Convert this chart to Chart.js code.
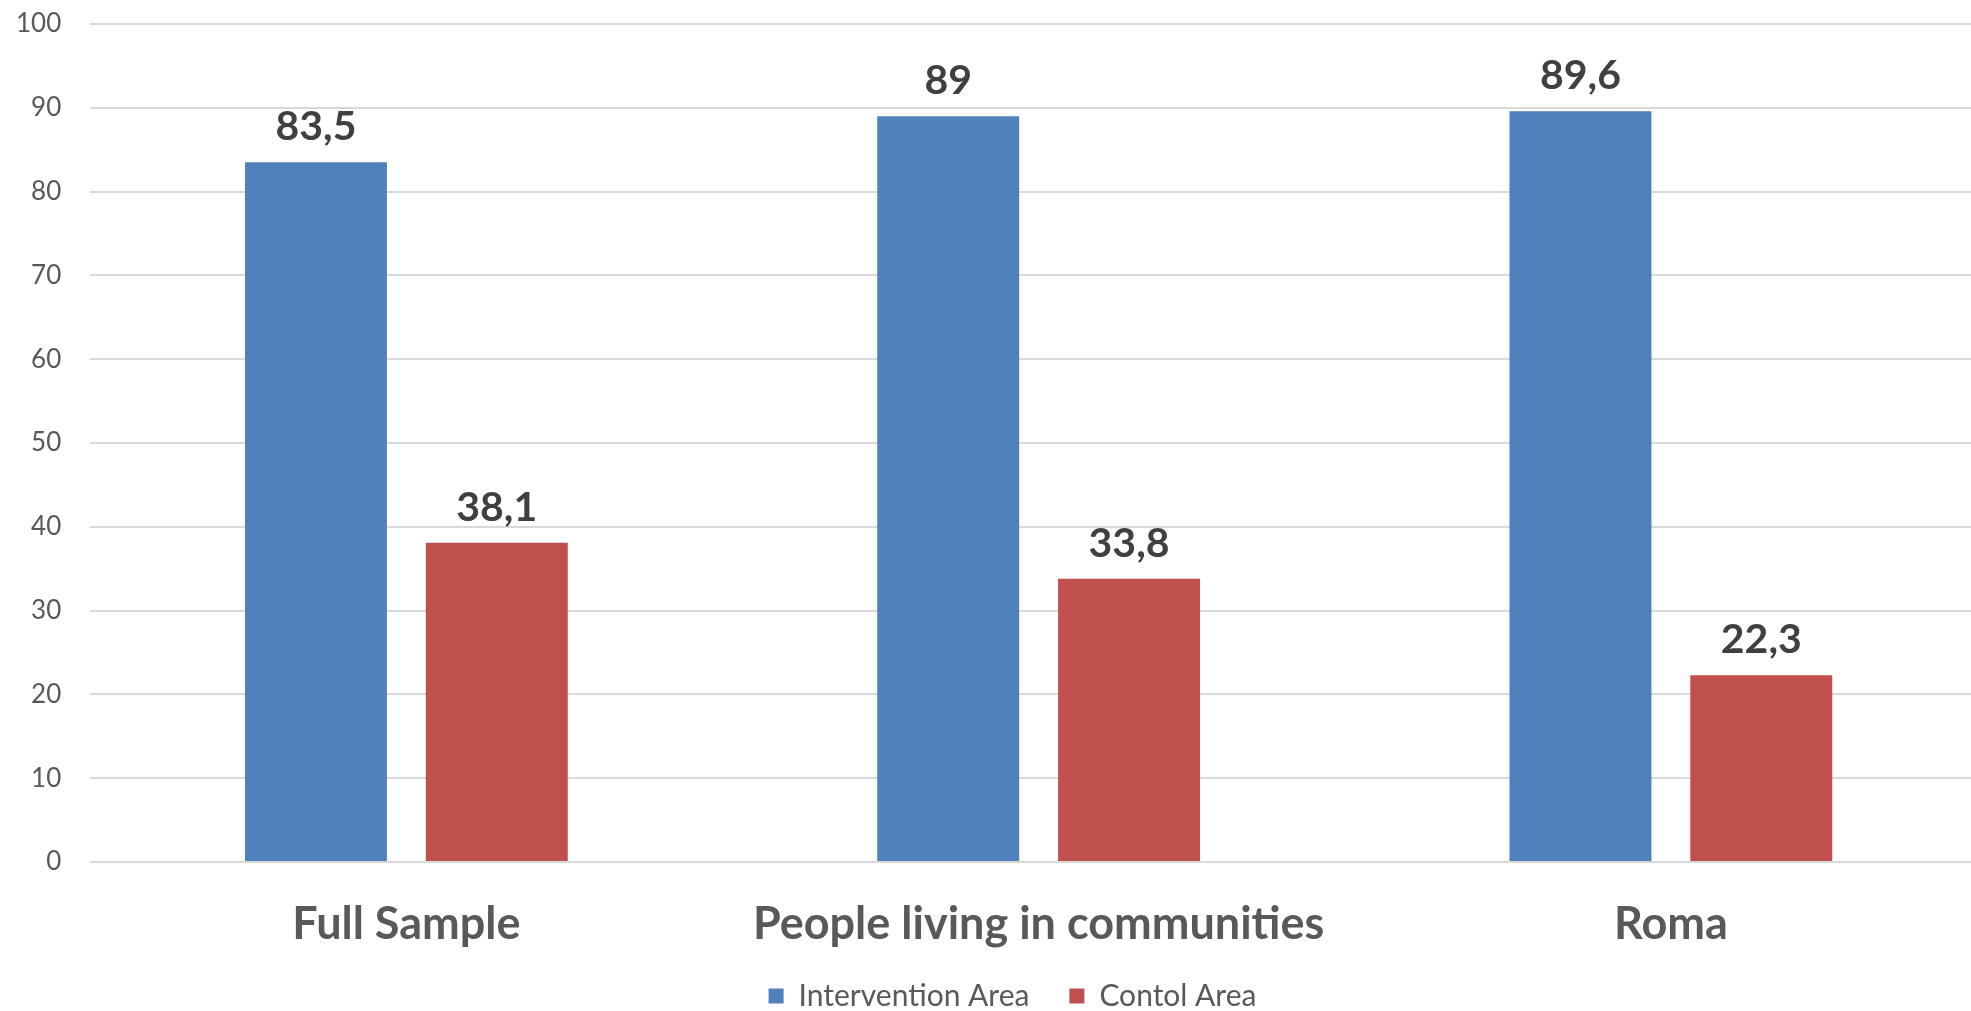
<!DOCTYPE html>
<html>
<head>
<meta charset="utf-8">
<script src="https://cdn.jsdelivr.net/npm/chart.js@4.4.1/dist/chart.umd.min.js"></script>
<style>
    html, body { margin: 0; padding: 0; background: #fff; overflow: hidden; }
    #wrap { width: 1990px; height: 1011px; position: relative; }
</style>
</head>
<body>
<div id="wrap"><canvas id="areaChart"></canvas></div>
<script>
const categories = ["Full Sample", "People living in communities", "Roma"];
const seriesNames = ["Intervention Area", "Contol Area"];
const interventionValues = [83.5, 89, 89.6];
const controlValues = [38.1, 33.8, 22.3];
const yTicks = [0, 10, 20, 30, 40, 50, 60, 70, 80, 90, 100];

const BLUE = "#4f81bd";
const RED = "#c0504d";

// value labels above each bar, decimal comma
const barLabels = {
    id: "barLabels",
    afterDatasetsDraw(chart) {
        const ctx = chart.ctx;
        ctx.save();
        ctx.font = "bold 41px Lato";
        ctx.fillStyle = "#404040";
        ctx.textAlign = "center";
        ctx.textBaseline = "alphabetic";
        chart.data.datasets.forEach((ds, i) => {
            chart.getDatasetMeta(i).data.forEach((bar, j) => {
                const txt = String(ds.data[j]).replace(".", ",");
                ctx.fillText(txt, bar.x, bar.y - 22);
            });
        });
        ctx.restore();
    }
};

// move the legend a bit off the layout centre and let it run to the canvas bottom
const legendNudge = {
    id: "legendNudge",
    afterLayout(chart, args, opts) {
        const lg = chart.legend;
        if (!lg) return;
        lg.left += opts.x; lg.right += opts.x;
        lg.top += opts.y;
        lg.bottom = Math.max(lg.bottom, chart.height);
        lg.height = lg.bottom - lg.top;
    }
};

const ctx = document.getElementById("areaChart").getContext("2d");

new Chart(ctx, {
    type: "bar",
    data: {
        labels: categories,
        datasets: [
            { label: seriesNames[0], data: interventionValues, backgroundColor: BLUE },
            { label: seriesNames[1], data: controlValues, backgroundColor: RED }
        ]
    },
    options: {
        responsive: true,
        maintainAspectRatio: false,
        animation: false,
        categoryPercentage: 0.572,
        barPercentage: 0.785,
        layout: { autoPadding: false, padding: { top: 24, left: 16, right: 3, bottom: 0 } },
        plugins: {
            legend: {
                position: "bottom",
                maxHeight: 60,
                labels: {
                    boxWidth: 15,
                    boxHeight: 15,
                    padding: 40,
                    color: "#595959",
                    font: { family: "Lato", size: 30 }
                }
            },
            tooltip: { enabled: false },
            legendNudge: { x: 11, y: -10 }
        },
        scales: {
            x: {
                // the invisible tick length keeps the labels off the axis
                grid: { display: false, tickLength: 35 },
                border: { display: false },
                ticks: {
                    padding: 0,
                    color: "#595959",
                    font: { family: "Lato", size: 45, weight: "bold" }
                }
            },
            y: {
                min: 0,
                max: 100,
                afterBuildTicks: axis => { axis.ticks = yTicks.map(v => ({ value: v })); },
                grid: { color: "#d9d9d9", lineWidth: 2, tickLength: 29, tickColor: "rgba(0,0,0,0)" },
                border: { display: false },
                ticks: {
                    padding: 0,
                    color: "#595959",
                    font: { family: "Lato", size: 26 }
                }
            }
        }
    },
    plugins: [barLabels, legendNudge]
});
</script>
</body>
</html>
